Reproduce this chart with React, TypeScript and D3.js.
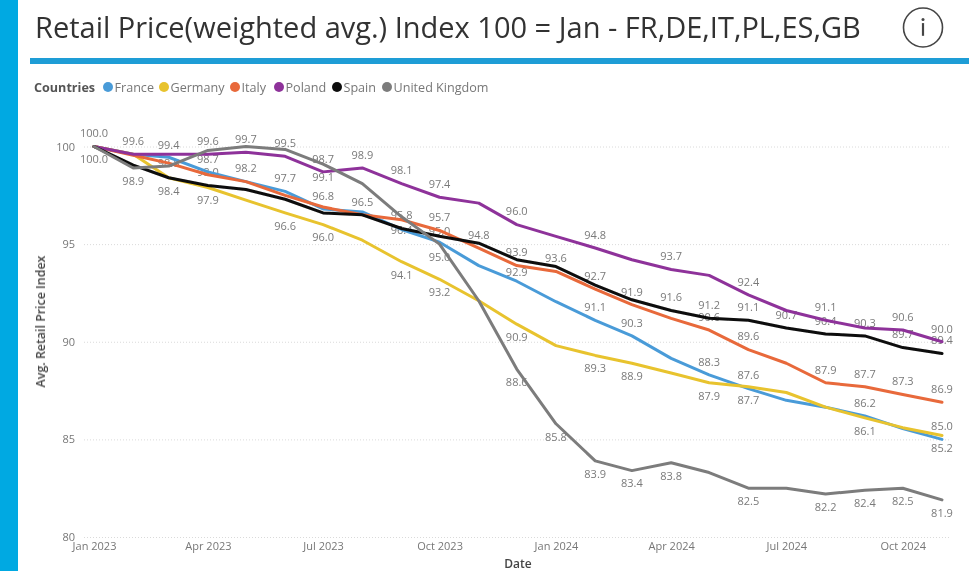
import React, { useEffect, useRef } from "react";
import * as d3 from "d3";

const months = ["2023-01","2023-02","2023-03","2023-04","2023-05","2023-06","2023-07","2023-08","2023-09","2023-10","2023-11","2023-12","2024-01","2024-02","2024-03","2024-04","2024-05","2024-06","2024-07","2024-08","2024-09","2024-10","2024-11"];

const france = [100,99.6,99.45,98.7,98.2,97.7,96.8,96.65,95.75,95.1,93.9,93.1,92.05,91.1,90.3,89.15,88.3,87.6,87.0,86.65,86.2,85.55,85.0];
const germany = [100,99.6,98.4,97.9,97.25,96.6,96.0,95.2,94.1,93.2,92.1,90.9,89.8,89.3,88.9,88.4,87.9,87.7,87.4,86.65,86.1,85.6,85.2];
const italy = [100,99.55,99.15,98.55,98.2,97.5,96.9,96.5,96.25,95.7,94.8,93.9,93.6,92.7,91.9,91.2,90.6,89.6,88.9,87.9,87.7,87.3,86.9];
const poland = [100,99.6,99.6,99.6,99.7,99.5,98.7,98.9,98.1,97.4,97.1,96.0,95.4,94.8,94.2,93.7,93.4,92.4,91.6,91.1,90.7,90.6,90.0];
const spain = [100,99.05,98.4,98.0,97.8,97.3,96.6,96.5,95.8,95.4,95.05,94.2,93.85,92.9,92.15,91.6,91.2,91.1,90.7,90.4,90.3,89.7,89.4];
const uk = [100,98.9,99.0,99.8,100.0,99.85,99.1,98.1,96.4,95.0,92.1,88.6,85.8,83.9,83.4,83.8,83.3,82.5,82.5,82.2,82.4,82.5,81.9];

const seriesNames = ["France","Germany","Italy","Poland","Spain","United Kingdom"];
const seriesValues = [france,germany,italy,poland,spain,uk];
const seriesColors = ["#4A9BD8","#E8C32E","#E8693A","#8E329A","#0A0A0A","#7C7C7C"];

const yTicks = [100,95,90,85,80];
const xTicks = ["2023-01","2023-04","2023-07","2023-10","2024-01","2024-04","2024-07","2024-10"];

// month index, label text, side of the value (-1 above, 1 below)
const dataLabels: [number,string,number][] = [
  [0,"100.0",-1],[0,"100.0",1],
  [1,"99.6",-1],[1,"98.9",1],
  [2,"99.4",-1],[2,"98.4",1],[2,"98.8",-0.5],
  [3,"99.6",-1],[3,"98.7",-1],[3,"98.0",-1],[3,"97.9",1],
  [4,"99.7",-1],[4,"98.2",-1],
  [5,"99.5",-1],[5,"97.7",-1],[5,"96.6",1],
  [6,"98.7",-1],[6,"99.1",1],[6,"96.8",-1],[6,"96.0",1],
  [7,"98.9",-1],[7,"96.5",-1],
  [8,"98.1",-1],[8,"95.8",-1],[8,"96.4",1],[8,"94.1",1],
  [9,"97.4",-1],[9,"95.7",-1],[9,"95.0",-1],[9,"95.0",1],[9,"93.2",1],
  [10,"94.8",-1],
  [11,"96.0",-1],[11,"93.9",-1],[11,"92.9",-1],[11,"90.9",1],[11,"88.6",1],
  [12,"93.6",-1],[12,"85.8",1],
  [13,"94.8",-1],[13,"92.7",-1],[13,"91.1",-1],[13,"89.3",1],[13,"83.9",1],
  [14,"91.9",-1],[14,"90.3",-1],[14,"88.9",1],[14,"83.4",1],
  [15,"93.7",-1],[15,"91.6",-1],[15,"83.8",1],
  [16,"91.2",-1],[16,"90.6",-1],[16,"88.3",-1],[16,"87.9",1],
  [17,"92.4",-1],[17,"91.1",-1],[17,"89.6",-1],[17,"87.6",-1],[17,"87.7",1],[17,"82.5",1],
  [18,"90.7",-1],
  [19,"91.1",-1],[19,"90.4",-1],[19,"87.9",-1],[19,"82.2",1],
  [20,"90.3",-1],[20,"87.7",-1],[20,"86.2",-1],[20,"86.1",1],[20,"82.4",1],
  [21,"90.6",-1],[21,"89.7",-1],[21,"87.3",-1],[21,"82.5",1],
  [22,"90.0",-1],[22,"89.4",-1],[22,"86.9",-1],[22,"85.0",-1],[22,"85.2",1],[22,"81.9",1],
];

const legendDotX = [108,164,235,279,337,387];
const parse = d3.utcParse("%Y-%m");
const FONT = "'Open Sans', sans-serif";

export default function App() {
  const ref = useRef<SVGSVGElement>(null);
  useEffect(() => {
    const svg = d3.select(ref.current);
    svg.selectAll("*").remove();
    const defs = svg.append("defs");
    defs.append("filter").attr("id","soft").append("feGaussianBlur").attr("stdDeviation",0.4);

    svg.append("rect").attr("width",979).attr("height",571).attr("fill","#fff");
    svg.append("rect").attr("width",18).attr("height",571).attr("fill","#00A9E2");
    svg.append("rect").attr("x",30).attr("y",58).attr("width",939).attr("height",6).attr("fill","#1E9DD6");

    svg.append("text").attr("x",35).attr("y",38).attr("font-family",FONT).attr("font-size",29).attr("fill","#333").text("Retail Price(weighted avg.) Index 100 = Jan - FR,DE,IT,PL,ES,GB");

    const info = svg.append("g").attr("transform","translate(923,27.5)");
    info.append("circle").attr("r",19.5).attr("fill","none").attr("stroke","#444").attr("stroke-width",1.6);
    info.append("rect").attr("x",-1.1).attr("y",-4.4).attr("width",2.2).attr("height",12.7).attr("fill","#444");
    info.append("circle").attr("cy",-8).attr("r",1.5).attr("fill","#444");

    // legend
    const leg = svg.append("g").attr("font-family",FONT).attr("font-size",12.6);
    leg.append("text").attr("x",34).attr("y",91.5).attr("font-weight",700).attr("fill","#555").text("Countries");
    seriesNames.forEach((n,i)=>{
      leg.append("circle").attr("cx",legendDotX[i]).attr("cy",87).attr("r",5).attr("fill",seriesColors[i]);
      leg.append("text").attr("x",legendDotX[i]+6.5).attr("y",91.5).attr("fill","#777").text(n);
    });

    const x = d3.scaleUtc().domain([parse(months[0])!, parse(months[months.length-1])!]).range([94,942]);
    const y = d3.scaleLinear().domain([80,100]).range([537,146.5]);

    // y axis + grid
    const gy = svg.append("g").attr("transform","translate(84,0)")
      .call(d3.axisLeft(y).tickValues(yTicks).tickSize(0).tickPadding(9).tickFormat(d3.format("d")) as any);
    gy.select(".domain").remove();
    gy.selectAll("text").attr("font-family",FONT).attr("font-size",11).attr("fill","#777");
    const grid = svg.append("g").attr("transform","translate(84,0)")
      .call(d3.axisLeft(y).tickValues(yTicks).tickSize(-866).tickFormat(()=>"") as any);
    grid.select(".domain").remove();
    grid.selectAll("line").attr("stroke","#DADADA").attr("stroke-width",1).attr("stroke-dasharray","1 2");

    // x axis
    const gx = svg.append("g").attr("transform","translate(0,537)")
      .call(d3.axisBottom(x).tickValues(xTicks.map(m=>parse(m)!)).tickSize(0).tickPadding(5).tickFormat(d3.utcFormat("%b %Y") as any) as any);
    gx.select(".domain").remove();
    gx.selectAll("text").attr("font-family",FONT).attr("font-size",11).attr("fill","#777");

    svg.append("text").attr("x",518).attr("y",568).attr("text-anchor","middle").attr("font-family",FONT).attr("font-size",12).attr("font-weight",600).attr("fill","#444").text("Date");
    svg.append("text").attr("transform","translate(45,321.5) rotate(-90)").attr("text-anchor","middle").attr("font-family",FONT).attr("font-size",12.4).attr("font-weight",600).attr("fill","#444").text("Avg. Retail Price Index");

    // labels
    svg.append("g").attr("font-family",FONT).attr("font-size",11).attr("fill","#7A7A7A").attr("text-anchor","middle")
      .selectAll("text").data(dataLabels).join("text")
      .attr("x",d=>x(parse(months[d[0]])!))
      .attr("y",d=>y(parseFloat(d[1]))+d[2]*13)
      .attr("dy","0.35em")
      .text(d=>d[1]);

    // lines
    const line = d3.line<number>().x((_,i)=>x(parse(months[i])!)).y(d=>y(d)).curve(d3.curveLinear);
    svg.append("g").attr("fill","none").attr("stroke-width",3).attr("stroke-linejoin","round").attr("stroke-linecap","round")
      .selectAll("path").data(seriesValues).join("path")
      .attr("d",d=>line(d))
      .attr("stroke",(_,i)=>seriesColors[i]);

    svg.selectAll(":scope > g, :scope > text").attr("filter","url(#soft)");
  },[]);
  return <svg ref={ref} width={979} height={571} style={{position:"absolute",left:0,top:0,display:"block"}} />;
}
